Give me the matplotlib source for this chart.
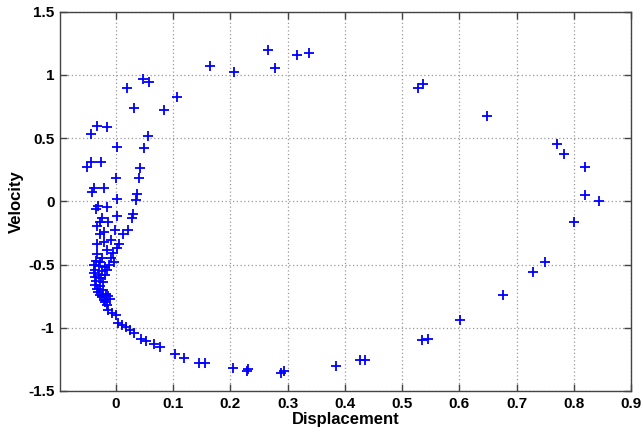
import numpy as np
import matplotlib
matplotlib.use('Agg')
from matplotlib import pyplot as plt

# phase plane samples
# outer part of the cycle
disp_outer = [0.019, 0.047, 0.057, 0.032, 0.083, 0.107, 0.165, 0.207, 0.265, 0.277,
              0.316, 0.338, 0.528, 0.537, 0.649, 0.771, 0.783, 0.820, 0.820, 0.8435,
              0.801, 0.750, 0.728, 0.677, 0.601, 0.546, 0.534, 0.426, 0.435, 0.385,
              0.289, 0.293, 0.229, 0.231, 0.205, 0.145, 0.156, 0.103, 0.118, 0.077,
              0.067, 0.052, 0.043]
vel_outer = [0.90, 0.97, 0.94, 0.74, 0.72, 0.825, 1.07, 1.02, 1.195, 1.057,
             1.16, 1.17, 0.894, 0.93, 0.672, 0.451, 0.377, 0.274, 0.052, 0.0,
             -0.164, -0.483, -0.559, -0.744, -0.939, -1.092, -1.10, -1.256, -1.256, -1.303,
             -1.361, -1.345, -1.34, -1.329, -1.321, -1.277, -1.282, -1.208, -1.237, -1.150,
             -1.131, -1.103, -1.092]

# points near zero displacement, upper half
disp_inner = [-0.034, -0.015, -0.044, 0.056, 0.002, 0.048, -0.044, -0.026, -0.050, 0.042,
              0.0, 0.040, -0.0385, -0.021, -0.042, 0.037, 0.002, 0.035, -0.0315, -0.016,
              -0.035, 0.001, 0.030, 0.028, -0.0245, -0.028, -0.014, -0.033, -0.002, 0.021,
              -0.021, -0.028, 0.013, -0.008, -0.021, -0.033, 0.006, 0.001, -0.016, -0.034,
              -0.005, -0.0245, -0.009, -0.035, -0.028]
vel_inner = [0.598, 0.59, 0.532, 0.517, 0.432, 0.424, 0.313, 0.313, 0.269, 0.261,
             0.187, 0.182, 0.108, 0.108, 0.071, 0.055, 0.018, 0.008, -0.035, -0.045,
             -0.061, -0.114, -0.103, -0.134, -0.134, -0.166, -0.166, -0.193, -0.227, -0.227,
             -0.245, -0.261, -0.261, -0.309, -0.324, -0.340, -0.340, -0.372, -0.388, -0.414,
             -0.409, -0.451, -0.451, -0.472, -0.483]

# dense cluster around velocity -0.5 .. -0.8 and the way out of it
disp_dense = [-0.038, -0.030, -0.012, -0.003, -0.020, -0.036, -0.025, -0.015, -0.038, -0.030,
              -0.020, -0.037, -0.026, -0.035, -0.022, -0.036, -0.028, -0.034, -0.022, -0.031,
              -0.018, -0.028, -0.014, -0.024, -0.010, -0.021, -0.019, -0.016, -0.0135, -0.0075,
              -0.0005, 0.004, 0.011, 0.018, 0.025, 0.031]
vel_dense = [-0.50, -0.51, -0.50, -0.48, -0.52, -0.54, -0.55, -0.54, -0.57, -0.58,
             -0.58, -0.60, -0.61, -0.63, -0.64, -0.66, -0.67, -0.69, -0.70, -0.72,
             -0.73, -0.74, -0.75, -0.76, -0.77, -0.78, -0.794, -0.82, -0.86, -0.88,
             -0.90, -0.965, -0.976, -0.992, -1.018, -1.04]

xticks = [0, 0.1, 0.2, 0.3, 0.4, 0.5, 0.6, 0.7, 0.8, 0.9]
xlabels = ['0', '0.1', '0.2', '0.3', '0.4', '0.5', '0.6', '0.7', '0.8', '0.9']
yticks = [-1.5, -1, -0.5, 0, 0.5, 1, 1.5]
ylabels = ['-1.5', '-1', '-0.5', '0', '0.5', '1', '1.5']

plt.rcParams['font.family'] = ['Liberation Sans', 'DejaVu Sans']
plt.rcParams['font.weight'] = 'bold'

disp = np.array(disp_outer + disp_inner + disp_dense)
vel = np.array(vel_outer + vel_inner + vel_dense)

fig = plt.figure(figsize=(6.43, 4.32), dpi=100)
ax = fig.add_axes([0.0933, 0.095, 0.888, 0.878])
ax.plot(disp, vel, '+', color='#0000ff', markersize=7.5, markeredgewidth=1.3)

ax.set_xlim(-0.098, 0.9)
ax.set_ylim(-1.5, 1.5)
ax.set_xticks(xticks)
ax.set_xticklabels(xlabels)
ax.set_yticks(yticks)
ax.set_yticklabels(ylabels)
ax.tick_params(direction='in', length=5, width=1, top=True, right=True,
               labelsize=11, colors='black', pad=4)
for lab in ax.get_xticklabels() + ax.get_yticklabels():
    lab.set_fontweight('bold')
for s in ax.spines.values():
    s.set_color('#444444')
    s.set_linewidth(1)
ax.tick_params(color='#444444')
ax.grid(True, linestyle=(0, (1, 2)), color='#999999', linewidth=0.9)

ax.set_xlabel('Displacement', fontsize=12, fontweight='bold', labelpad=1)
ax.set_ylabel('Velocity', fontsize=12, fontweight='bold', labelpad=3)

fig.savefig('out.png', dpi=100)
